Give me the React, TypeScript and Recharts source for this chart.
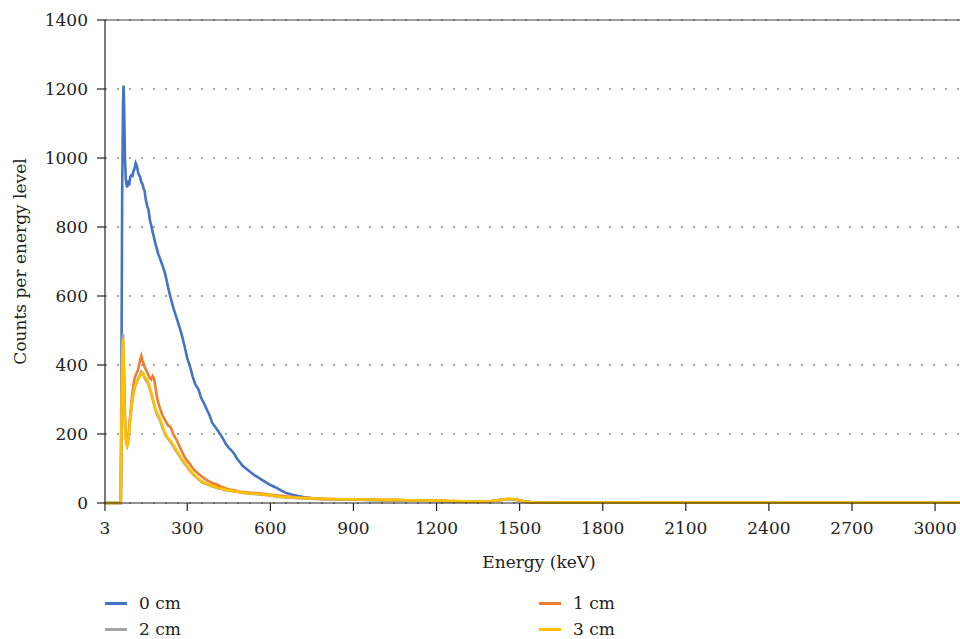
import React from "react";
import { LineChart, Line, XAxis, YAxis, CartesianGrid, ReferenceLine } from "recharts";

const energies = [3, 55, 60, 62, 65, 68, 70, 72, 75, 78, 80, 83, 86, 90, 94, 98, 102, 106, 110, 114, 118, 122, 126, 130, 134, 138, 142, 146, 150, 155, 160, 165, 170, 175, 180, 185, 190, 195, 200, 210, 220, 230, 240, 250, 260, 270, 280, 290, 300, 310, 320, 330, 340, 350, 360, 370, 380, 390, 400, 410, 420, 430, 440, 450, 460, 470, 480, 490, 500, 520, 540, 560, 580, 600, 620, 640, 660, 680, 700, 720, 740, 760, 780, 800, 850, 900, 950, 1000, 1050, 1100, 1150, 1200, 1250, 1300, 1350, 1400, 1430, 1460, 1490, 1520, 1550, 1600, 1700, 1800, 2000, 2200, 2400, 2600, 2800, 3000, 3090];

const cm0 = [0, 0, 0, 300, 900, 1150, 1210, 1150, 1000, 940, 925, 915, 935, 920, 945, 950, 948, 962, 970, 985, 978, 960, 950, 945, 930, 925, 912, 905, 880, 862, 850, 820, 805, 785, 770, 752, 738, 722, 712, 690, 665, 628, 595, 565, 540, 515, 488, 455, 420, 395, 365, 342, 330, 305, 290, 272, 255, 232, 222, 210, 198, 185, 170, 160, 152, 142, 128, 118, 108, 95, 82, 72, 62, 52, 45, 36, 28, 24, 20, 17, 15, 13, 12, 11, 10, 10, 9, 8, 8, 7, 7, 6, 5, 5, 5, 6, 8, 11, 9, 4, 2, 2, 2, 2, 1, 1, 1, 1, 1, 1, 1];

const cm1 = [0, 0, 0, 150, 400, 450, 440, 360, 250, 200, 180, 168, 175, 215, 255, 290, 320, 345, 362, 370, 378, 385, 400, 415, 426, 412, 405, 395, 388, 380, 370, 362, 358, 368, 362, 335, 310, 292, 278, 255, 240, 225, 220, 198, 185, 168, 150, 134, 122, 112, 100, 92, 85, 78, 72, 66, 62, 58, 55, 52, 48, 45, 42, 40, 38, 37, 35, 33, 32, 30, 29, 28, 26, 24, 22, 21, 19, 18, 16, 15, 14, 13, 13, 12, 11, 11, 10, 9, 9, 8, 8, 7, 6, 5, 4, 6, 9, 12, 10, 4, 1, 1, 1, 1, 1, 1, 1, 1, 1, 1, 1];

const cm2 = [0, 0, 0, 220, 440, 490, 445, 340, 235, 190, 172, 166, 178, 210, 245, 272, 298, 318, 332, 342, 350, 360, 366, 372, 380, 376, 370, 362, 356, 350, 342, 330, 315, 300, 285, 270, 258, 250, 242, 220, 198, 186, 176, 164, 150, 138, 125, 114, 104, 93, 84, 76, 69, 62, 58, 54, 51, 48, 46, 43, 41, 39, 37, 36, 35, 33, 32, 31, 29, 27, 26, 25, 23, 21, 19, 17, 16, 15, 14, 13, 13, 12, 11, 11, 10, 10, 9, 8, 8, 7, 7, 6, 5, 4, 4, 6, 9, 11, 9, 3, 1, 1, 1, 1, 1, 1, 1, 1, 1, 1, 1];

const cm3 = [0, 0, 0, 200, 420, 475, 430, 330, 230, 185, 170, 165, 175, 205, 240, 275, 300, 320, 338, 345, 352, 358, 362, 370, 372, 378, 374, 366, 362, 356, 348, 335, 320, 305, 288, 272, 262, 255, 248, 225, 200, 188, 180, 168, 155, 140, 128, 118, 106, 95, 86, 78, 70, 64, 59, 56, 52, 49, 47, 44, 42, 40, 38, 37, 36, 34, 33, 32, 30, 28, 27, 26, 24, 22, 20, 18, 17, 16, 15, 14, 14, 13, 12, 12, 11, 11, 10, 9, 9, 8, 8, 7, 6, 5, 4, 6, 9, 12, 10, 4, 1, 1, 1, 1, 1, 1, 1, 1, 1, 1, 1];

const xTicks = [3, 300, 600, 900, 1200, 1500, 1800, 2100, 2400, 2700, 3000];
const minorTicks = [53, 103, 153, 203, 253, 353, 403, 453, 503, 553, 653, 703, 753, 803, 853, 953, 1003, 1053, 1103, 1153, 1253, 1303, 1353, 1403, 1453, 1553, 1603, 1653, 1703, 1753, 1853, 1903, 1953, 2003, 2053, 2153, 2203, 2253, 2303, 2353, 2453, 2503, 2553, 2603, 2653, 2753, 2803, 2853, 2903, 2953, 3053];
const yTicks = [0, 200, 400, 600, 800, 1000, 1200, 1400];

const seriesNames = ["0 cm", "1 cm", "2 cm", "3 cm"];
const seriesColors = ["#4472C4", "#ED7D31", "#A5A5A5", "#FFC000"];

const data = energies.map((e, i) => ({ e, s0: cm0[i], s1: cm1[i], s2: cm2[i], s3: cm3[i] }));

const FONT = "'DejaVu Serif', 'Liberation Serif', serif";
const FS = 17;
const INK = "#222";

const legendItems = [
  { name: seriesNames[0], color: seriesColors[0], left: 105, top: 590 },
  { name: seriesNames[1], color: seriesColors[1], left: 539, top: 590 },
  { name: seriesNames[2], color: seriesColors[2], left: 105, top: 616 },
  { name: seriesNames[3], color: seriesColors[3], left: 539, top: 616 },
];

export default function App() {
  return (
    <div style={{ position: "absolute", left: 0, top: 0, width: 960, height: 639, background: "#fff", fontFamily: FONT, overflow: "hidden" }}>
      <LineChart width={960} height={585} data={data} margin={{ top: 20, right: 0, bottom: 25, left: 0 }}>
        <CartesianGrid horizontal vertical={false} stroke="#8a8a8a" strokeDasharray="2 10" strokeWidth={1.5} />
        <XAxis
          xAxisId="minor"
          dataKey="e"
          type="number"
          domain={[3, 3090]}
          ticks={minorTicks}
          tick={false}
          tickSize={3}
          axisLine={false}
          tickLine={{ stroke: INK }}
          height={0}
          allowDataOverflow
        />
        <XAxis
          dataKey="e"
          type="number"
          domain={[3, 3090]}
          ticks={xTicks}
          interval={0}
          allowDataOverflow
          height={57}
          tickSize={8}
          tickMargin={11}
          axisLine={{ stroke: INK, strokeWidth: 1.2 }}
          tickLine={{ stroke: INK, strokeWidth: 1.2 }}
          tick={{ fill: INK, fontSize: FS, fontFamily: FONT }}
          label={{
            content: (p: any) => {
              const vb = p.viewBox || {};
              return (
                <text x={539} y={(vb.y || 503) + 65} textAnchor="middle" fill={INK} fontSize={FS} fontFamily={FONT}>
                  Energy (keV)
                </text>
              );
            },
          }}
        />
        <YAxis
          type="number"
          domain={[0, 1400]}
          ticks={yTicks}
          interval={0}
          width={105}
          tickSize={8}
          tickMargin={9}
          axisLine={{ stroke: INK, strokeWidth: 1.2 }}
          tickLine={{ stroke: INK, strokeWidth: 1.2 }}
          tick={{ fill: INK, fontSize: FS, fontFamily: FONT }}
          label={{
            content: (p: any) => {
              const vb = p.viewBox || {};
              const cy = (vb.y || 20) + (vb.height || 483) / 2;
              return (
                <text x={26} y={cy} transform={`rotate(-90, 26, ${cy})`} textAnchor="middle" fill={INK} fontSize={FS} fontFamily={FONT}>
                  Counts per energy level
                </text>
              );
            },
          }}
        />
        <ReferenceLine y={1400} stroke="#444" strokeWidth={1.2} />
        <Line dataKey="s0" name={seriesNames[0]} stroke={seriesColors[0]} strokeWidth={2.6} dot={false} isAnimationActive={false} type="linear" />
        <Line dataKey="s1" name={seriesNames[1]} stroke={seriesColors[1]} strokeWidth={2.6} dot={false} isAnimationActive={false} type="linear" />
        <Line dataKey="s2" name={seriesNames[2]} stroke={seriesColors[2]} strokeWidth={2.6} dot={false} isAnimationActive={false} type="linear" />
        <Line dataKey="s3" name={seriesNames[3]} stroke={seriesColors[3]} strokeWidth={2.6} dot={false} isAnimationActive={false} type="linear" />
      </LineChart>
      {legendItems.map((it) => (
        <div key={it.name} style={{ position: "absolute", left: it.left, top: it.top, height: 26, display: "flex", alignItems: "center" }}>
          <div style={{ width: 22, height: 3, background: it.color }} />
          <span style={{ marginLeft: 12, fontSize: FS, color: INK, fontFamily: FONT, lineHeight: "26px" }}>{it.name}</span>
        </div>
      ))}
    </div>
  );
}
